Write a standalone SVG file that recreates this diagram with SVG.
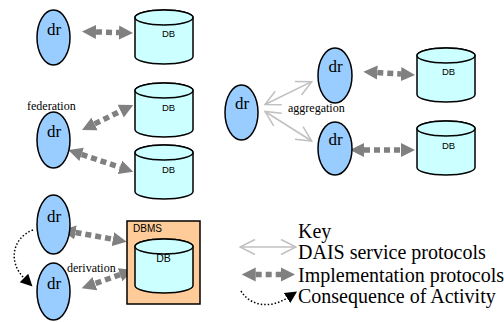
<svg xmlns="http://www.w3.org/2000/svg" xmlns:xlink="http://www.w3.org/1999/xlink" width="504" height="322" viewBox="0 0 504 322">
<style>
.dr{fill:#99ccff;stroke:#000;stroke-width:1.5}
.serif{font-family:'Liberation Serif','Times New Roman','DejaVu Serif',serif}
.drt{font-size:17px;fill:#000;text-anchor:middle}
.lbl{font-size:12px;fill:#000}
.key{font-size:20px;fill:#000}
.dbt{font-family:'Liberation Sans',Arial,sans-serif;font-size:9.5px;fill:#000;text-anchor:middle}
.cyl{fill:#ccffff;stroke:#000;stroke-width:1.5}
.impl{fill:none;stroke:#808080;stroke-width:5.5;stroke-dasharray:6 4;marker-start:url(#mImpl);marker-end:url(#mImpl)}
.dais{fill:none;stroke:#c0c0c0;stroke-width:1.5;marker-start:url(#mDais);marker-end:url(#mDais)}
.cons{fill:none;stroke:#000;stroke-width:1.5;stroke-dasharray:1.5 2;marker-end:url(#mCons)}
</style>
<defs>
<marker id="mImpl" markerUnits="userSpaceOnUse" viewBox="0 -8 15 16" refX="0" refY="0" markerWidth="15" markerHeight="16" orient="auto-start-reverse">
<path d="M0,-7 L14,0 L0,7 z" fill="#808080"/>
</marker>
<marker id="mDais" markerUnits="userSpaceOnUse" viewBox="-1 -9 17 18" refX="15" refY="0" markerWidth="17" markerHeight="18" orient="auto-start-reverse">
<path d="M0,-7.5 L15,0 L0,7.5" fill="none" stroke="#c0c0c0" stroke-width="1.5"/>
</marker>
<marker id="mCons" markerUnits="userSpaceOnUse" viewBox="0 -7 13 14" refX="0" refY="0" markerWidth="13" markerHeight="14" orient="auto">
<path d="M0,-6 L12,0 L0,6 z" fill="#000"/>
</marker>
<g id="cyl">
<path class="cyl" d="M0,7.5 L0,46.5 A29,7.5 0 0 0 58,46.5 L58,7.5 A29,7.5 0 0 0 0,7.5 z"/>
<ellipse class="cyl" cx="29" cy="7.5" rx="29" ry="7.5"/>
</g>
</defs>

<g id="connectors">
<path class="impl" d="M96,31.9 L119,32.6"/>
<path class="impl" d="M94.6,123.9 L120.7,111.1"/>
<path class="impl" d="M81.6,154.4 L120,167.3"/>
<path class="impl" d="M75.5,232.5 L112.9,239.2"/>
<path class="impl" d="M120.1,274.7 L94.9,283.6"/>
<path class="impl" d="M377.3,72.6 L401,74.1"/>
<path class="impl" d="M364,150 L401,150"/>
<path class="dais" d="M265,104.5 L311.7,81.7"/>
<path class="dais" d="M265,111.5 L311.7,141"/>
<path class="cons" d="M33,230 C12,238 8,262 24,278"/>
</g>

<g id="dr1"><ellipse class="dr" cx="53.5" cy="37.5" rx="16.5" ry="27.5"/><text class="serif drt" font-family="Liberation Serif, serif" x="54" y="35">dr</text></g>
<g id="dr2"><ellipse class="dr" cx="53.5" cy="140" rx="16.5" ry="28"/><text class="serif drt" font-family="Liberation Serif, serif" x="54" y="137">dr</text></g>
<g id="dr3"><ellipse class="dr" cx="53.5" cy="224.5" rx="16.5" ry="29.5"/><text class="serif drt" font-family="Liberation Serif, serif" x="54" y="222">dr</text></g>
<g id="dr4"><ellipse class="dr" cx="53.5" cy="291.5" rx="16.5" ry="28.5"/><text class="serif drt" font-family="Liberation Serif, serif" x="54" y="289">dr</text></g>
<g id="dr5"><ellipse class="dr" cx="241.5" cy="112.5" rx="16.5" ry="27.5"/><text class="serif drt" font-family="Liberation Serif, serif" x="242" y="109">dr</text></g>
<g id="dr6"><ellipse class="dr" cx="335" cy="75.5" rx="17" ry="27.5"/><text class="serif drt" font-family="Liberation Serif, serif" x="335.5" y="72">dr</text></g>
<g id="dr7"><ellipse class="dr" cx="335" cy="148.5" rx="17" ry="26.5"/><text class="serif drt" font-family="Liberation Serif, serif" x="335.5" y="145">dr</text></g>

<g id="db1"><use xlink:href="#cyl" href="#cyl" x="135" y="10"/><text class="dbt" x="168.5" y="37">DB</text></g>
<g id="db2"><use xlink:href="#cyl" href="#cyl" x="135" y="83"/><text class="dbt" x="168.5" y="110.5">DB</text></g>
<g id="db3"><use xlink:href="#cyl" href="#cyl" x="135" y="145"/><text class="dbt" x="168.5" y="172.5">DB</text></g>
<g id="dbms">
<rect x="127" y="221" width="73" height="83" fill="#ffcc99" stroke="#000" stroke-width="1.5"/>
<text x="133" y="232" font-family="'Liberation Sans',Arial,sans-serif" font-size="10" fill="#000">DBMS</text>
<use xlink:href="#cyl" href="#cyl" x="135" y="239"/>
<text class="dbt" x="163.5" y="262" style="font-size:10.5px">DB</text>
</g>
<g id="db5"><use xlink:href="#cyl" href="#cyl" x="417" y="48"/><text class="dbt" x="448.5" y="75">DB</text></g>
<g id="db6"><use xlink:href="#cyl" href="#cyl" x="417" y="121"/><text class="dbt" x="448.5" y="148.5">DB</text></g>

<g id="labels">
<text class="serif lbl" font-family="Liberation Serif, serif" x="27" y="110">federation</text>
<text class="serif lbl" font-family="Liberation Serif, serif" x="288" y="112">aggregation</text>
<text class="serif lbl" font-family="Liberation Serif, serif" x="67" y="272">derivation</text>
</g>

<g id="legend">
<text class="serif key" font-family="Liberation Serif, serif" x="298" y="237.5">Key</text>
<path class="dais" d="M240,247 L296,247"/>
<text class="serif key" font-family="Liberation Serif, serif" x="298" y="259">DAIS service protocols</text>
<path class="impl" d="M255.7,274.5 L281,274.5"/>
<text class="serif key" font-family="Liberation Serif, serif" x="298" y="281.5">Implementation protocols</text>
<path class="cons" d="M241,291 C250,306 270,309 287,298"/>
<text class="serif key" font-family="Liberation Serif, serif" x="298" y="302.5">Consequence of Activity</text>
</g>
</svg>
